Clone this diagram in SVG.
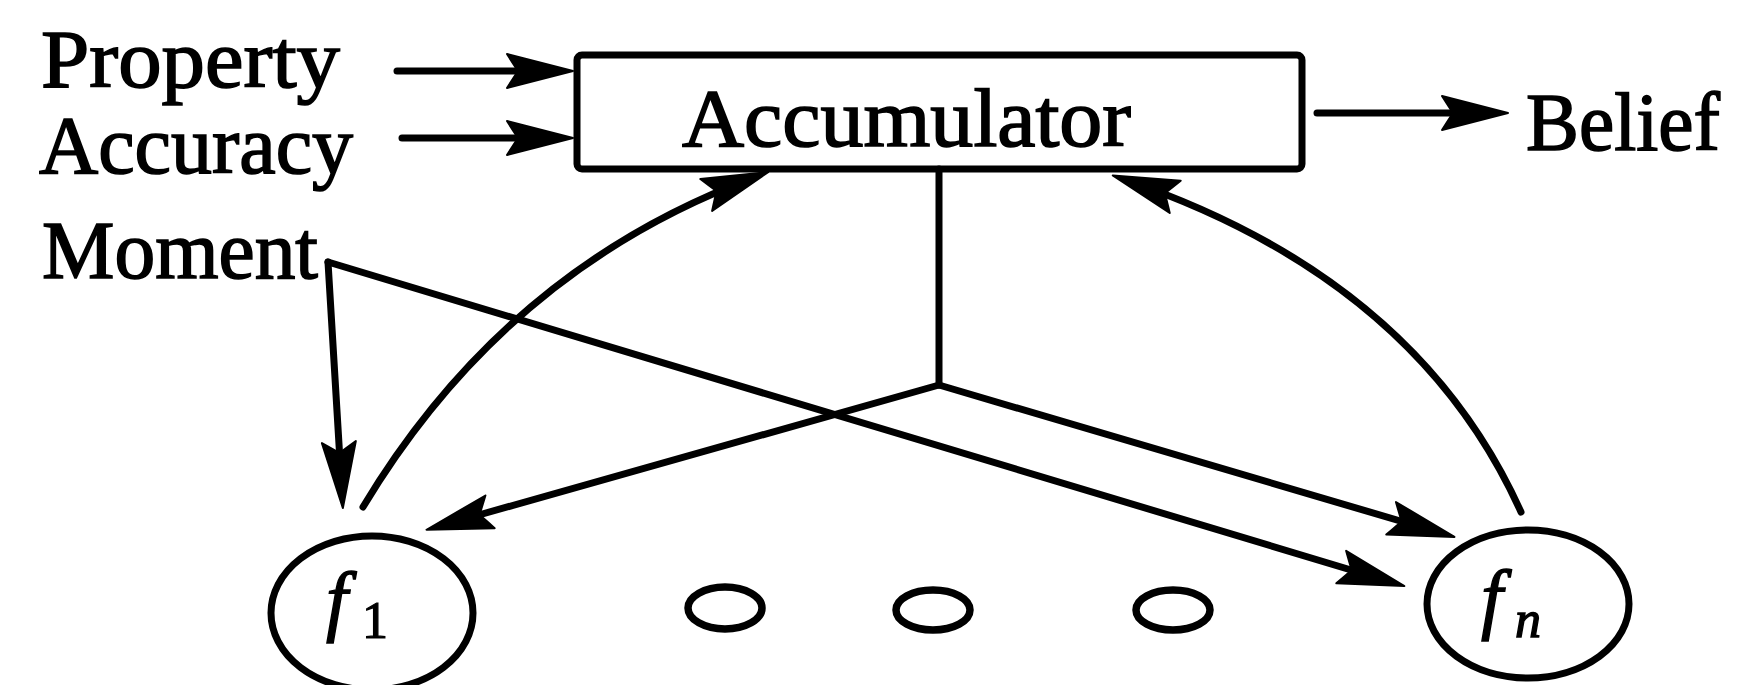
<svg xmlns="http://www.w3.org/2000/svg" width="1739" height="685" viewBox="0 0 1739 685">
  <style>
    .lbl { font-family: "Liberation Serif", "DejaVu Serif", serif; font-size: 82px; fill: #000; stroke: #000; stroke-width: 1.6; }
    .var { font-family: "Liberation Serif", "DejaVu Serif", serif; font-style: italic; fill: #000; stroke: #000; stroke-width: 1.4; }
    .sub { font-family: "Liberation Serif", "DejaVu Serif", serif; fill: #000; stroke: #000; stroke-width: 1.2; }
    .edge { fill: none; stroke: #000; stroke-width: 7; stroke-linecap: round; stroke-linejoin: round; }
    .arr { marker-end: url(#head); }
    .shape { fill: #fff; stroke: #000; stroke-width: 7; }
    .dot { fill: none; stroke: #000; stroke-width: 7.5; }
  </style>
  <defs>
    <!-- long, narrow notched arrowhead; tip sits 14px past the path end -->
    <marker id="head" markerUnits="userSpaceOnUse" markerWidth="90" markerHeight="44"
            viewBox="-72 -22 90 44" refX="-14" refY="0" orient="auto" overflow="visible">
      <path d="M0,0 L-66,-17 Q-59,-6 -55,0 Q-59,6 -66,17 Z" fill="#000" stroke="#000" stroke-width="2" stroke-linejoin="round"/>
    </marker>
  </defs>

  <rect width="1739" height="685" fill="#fff"/>

  <!-- input labels -->
  <g id="property">
    <text class="lbl" x="41" y="87" textLength="299" lengthAdjust="spacingAndGlyphs">Property</text>
  </g>
  <g id="accuracy">
    <text class="lbl" x="39" y="173" textLength="314" lengthAdjust="spacingAndGlyphs">Accuracy</text>
  </g>
  <g id="moment">
    <text class="lbl" x="42" y="278" textLength="276" lengthAdjust="spacingAndGlyphs">Moment</text>
  </g>

  <!-- accumulator box -->
  <g id="accumulator">
    <rect class="shape" x="577" y="55" width="725" height="114" rx="5"/>
    <text class="lbl" x="682" y="146" textLength="449" lengthAdjust="spacingAndGlyphs">Accumulator</text>
  </g>

  <!-- output label -->
  <g id="belief">
    <text class="lbl" x="1526" y="150" textLength="194" lengthAdjust="spacingAndGlyphs">Belief</text>
  </g>

  <!-- feature nodes -->
  <g id="f1">
    <ellipse class="shape" cx="372" cy="613" rx="101" ry="77"/>
    <text class="var" x="326" y="626" font-size="78">f</text>
    <text class="sub" x="362" y="638" font-size="52">1</text>
  </g>
  <g id="dots">
    <ellipse class="dot" cx="725" cy="608" rx="37" ry="21"/>
    <ellipse class="dot" cx="933" cy="610" rx="37" ry="20"/>
    <ellipse class="dot" cx="1173" cy="610" rx="37" ry="20"/>
  </g>
  <g id="fn">
    <ellipse class="shape" cx="1528" cy="604" rx="101" ry="74"/>
    <text class="var" x="1481" y="624" font-size="78">f</text>
    <text class="var" x="1515" y="637" font-size="52">n</text>
  </g>

  <!-- connectors -->
  <g id="connectors">
    <path class="edge arr" d="M397,71 L559,71"/>
    <path class="edge arr" d="M402,138 L559,138"/>
    <path class="edge arr" d="M1317,113 L1494,113"/>
    <path class="edge arr" d="M328,262 L342,494"/>
    <path class="edge arr" d="M328,262 L1391,582"/>
    <path class="edge" d="M939,169 L939,385"/>
    <path class="edge arr" d="M939,385 L440,526"/>
    <path class="edge arr" d="M939,385 L1441,533"/>
    <path class="edge arr" d="M363,507 Q506,269 755,177"/>
    <path class="edge arr" d="M1521,512 Q1416,279 1126,180"/>
  </g>
</svg>
